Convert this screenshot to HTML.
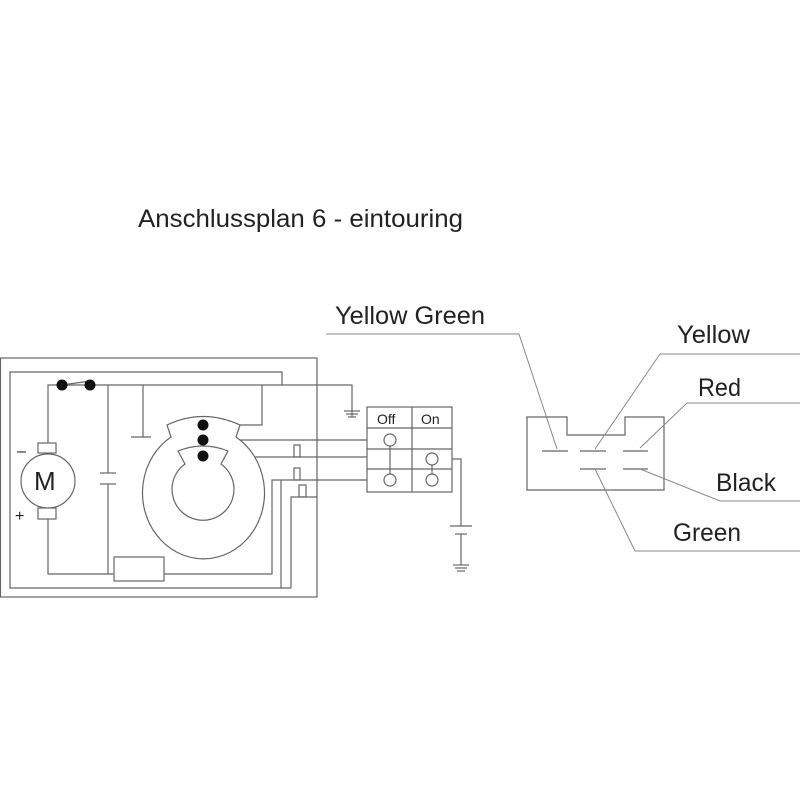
<!DOCTYPE html>
<html><head><style>html,body{margin:0;padding:0;background:#fff}svg{display:block}text{font-family:"Liberation Sans",sans-serif;fill:#222}</style></head>
<body>
<svg width="800" height="800" viewBox="0 0 800 800" xmlns="http://www.w3.org/2000/svg">
<g fill="none" stroke="#666" stroke-width="1.2">
<rect x="0.5" y="358" width="316.5" height="239"/>
<polyline points="282,385 282,372 10,372 10,588 291,588"/>
<polyline points="48,443 48,385 352,385 352,417"/>
<line x1="344" y1="411" x2="360" y2="411"/><line x1="346" y1="414" x2="358" y2="414"/><line x1="348" y1="417" x2="356" y2="417"/>
<line x1="62" y1="385" x2="90" y2="381"/>
<rect x="38" y="443" width="18" height="10" fill="#fff"/>
<rect x="38" y="508" width="18" height="11" fill="#fff"/>
<circle cx="48" cy="481" r="27" fill="#fff"/>
<polyline points="48,519 48,574 114,574"/>
<line x1="108" y1="385" x2="108" y2="473"/><line x1="100" y1="473" x2="116" y2="473"/>
<line x1="100" y1="484" x2="116" y2="484"/><line x1="108" y1="484" x2="108" y2="574"/>
<line x1="143" y1="385" x2="143" y2="437"/><line x1="131" y1="437" x2="151" y2="437"/>
<rect x="114" y="557" width="50" height="24"/>
<polyline points="164,574 272,574 272,480 367,480"/>
<line x1="281" y1="480" x2="281" y2="588"/>
<polyline points="291,588 291,497 317,497"/>
<rect x="294" y="445" width="6" height="12"/>
<rect x="294" y="468" width="6" height="12"/>
<rect x="299" y="485" width="7" height="12"/>
<polyline points="203,425 262,425 262,385"/>
<line x1="203" y1="440" x2="367" y2="440"/>
<line x1="203" y1="457" x2="367" y2="457"/>
<path d="M171,437 L167,425 Q203,408 240,425 L236,437 A61 66 0 1 1 171,437 Z" fill="#fff"/>
<path d="M185,464 L178,451 Q203,441 228,451 L221,464 A31 31 0 1 1 185,464 Z" fill="#fff"/>
<rect x="367" y="407" width="85" height="85" fill="#fff"/>
<line x1="367" y1="428" x2="452" y2="428"/><line x1="367" y1="449" x2="452" y2="449"/><line x1="367" y1="469" x2="452" y2="469"/>
<line x1="412" y1="407" x2="412" y2="492"/>
<line x1="390" y1="440" x2="390" y2="480"/><line x1="432" y1="459" x2="432" y2="480"/>
<circle cx="390" cy="440" r="6" fill="#fff"/><circle cx="390" cy="480" r="6" fill="#fff"/>
<circle cx="432" cy="459" r="6" fill="#fff"/><circle cx="432" cy="480" r="6" fill="#fff"/>
<polyline points="452,459 461,459 461,526"/>
<line x1="450" y1="526" x2="472" y2="526"/><line x1="455" y1="534" x2="467" y2="534"/>
<line x1="461" y1="534" x2="461" y2="565"/>
<line x1="453" y1="565" x2="469" y2="565"/><line x1="455" y1="568" x2="467" y2="568"/><line x1="457" y1="571" x2="465" y2="571"/>
<path d="M527,417 H567 V435 H625 V417 H664 V490 H527 Z"/>
<line x1="542" y1="451" x2="568" y2="451"/><line x1="580" y1="451" x2="606" y2="451"/><line x1="623" y1="451" x2="648" y2="451"/>
<line x1="580" y1="469" x2="606" y2="469"/><line x1="623" y1="469" x2="648" y2="469"/>
<g stroke="#888" stroke-width="1">
<polyline points="326,334 519,334 557,449"/>
<polyline points="595,449 660,354 800,354"/>
<polyline points="640,448 687,403 800,403"/>
<polyline points="640,469 720,501 800,501"/>
<polyline points="595,469 635,551 800,551"/>
</g>
</g>
<g fill="#111">
<circle cx="62" cy="385" r="5.5"/><circle cx="90" cy="385" r="5.5"/>
<circle cx="203" cy="425" r="5.5"/><circle cx="203" cy="440" r="5.5"/><circle cx="203" cy="456" r="5.5"/>
</g>
<text x="34" y="490" font-size="26">M</text>
<text x="17" y="456" font-size="16" fill="#555">–</text>
<text x="15" y="521" font-size="16" fill="#555">+</text>
<text x="377" y="424" font-size="14">Off</text>
<text x="421" y="424" font-size="14">On</text>
<text x="138" y="227" font-size="25" textLength="325" lengthAdjust="spacingAndGlyphs">Anschlussplan 6 - eintouring</text>
<text x="335" y="324" font-size="25" textLength="150" lengthAdjust="spacingAndGlyphs">Yellow Green</text>
<text x="677" y="343" font-size="25" textLength="73" lengthAdjust="spacingAndGlyphs">Yellow</text>
<text x="698" y="396" font-size="25" textLength="43" lengthAdjust="spacingAndGlyphs">Red</text>
<text x="716" y="491" font-size="25" textLength="60" lengthAdjust="spacingAndGlyphs">Black</text>
<text x="673" y="541" font-size="25" textLength="68" lengthAdjust="spacingAndGlyphs">Green</text>
</svg>
</body></html>
